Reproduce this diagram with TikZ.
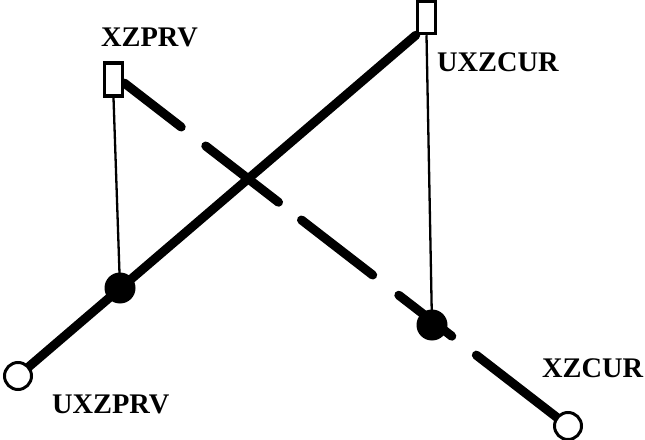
\documentclass[tikz,border=0pt]{standalone}
\usepackage{fontspec}
\setmainfont{Liberation Serif}
\usetikzlibrary{backgrounds}
\begin{document}
\begin{tikzpicture}[x=1bp,y=-1bp,
  box/.style={draw, line width=3.5bp, fill=white, minimum width=18bp, minimum height=33bp, inner sep=0pt},
  opencirc/.style={circle, draw, line width=3bp, fill=white, minimum size=27bp, inner sep=0pt},
  dotnode/.style={circle, fill=black, minimum size=31bp, inner sep=0pt},
  lbl/.style={font=\fontsize{28.5}{32}\selectfont\bfseries, inner sep=0pt, anchor=base west},
  heavyline/.style={line width=9bp, line cap=round},
  thinline/.style={line width=2.3bp}]
\useasboundingbox (0,0) rectangle (645,440);
\node[box] (rprv) at (113.5,79.5) {};
\node[box, minimum height=32bp] (rcur) at (426.5,17.5) {};
\node[dotnode] (dprv) at (120,288) {};
\node[dotnode] (dcur) at (432,325) {};
\node[opencirc] (cprv) at (18,376) {};
\node[opencirc] (ccur) at (568,426) {};
\node[lbl] (lprv) at (101,47) {XZPRV};
\node[lbl] (lcur) at (437,72) {UXZCUR};
\node[lbl] (luprv) at (52,413) {UXZPRV};
\node[lbl] (lxcur) at (542,377) {XZCUR};
\begin{scope}[on background layer]
\draw[heavyline] (cprv.center) -- (rcur.south west);
\draw[heavyline, dash pattern=on 72bp off 31bp on 92bp off 29bp on 90bp off 33bp on 67bp off 31bp on 300bp off 10bp]
  ([yshift=-3.5bp]rprv.east) -- (ccur.center);
\draw[thinline] (rprv.south) -- (dprv.center);
\draw[thinline] (rcur.south) -- (dcur.center);
\end{scope}
\end{tikzpicture}
\end{document}
